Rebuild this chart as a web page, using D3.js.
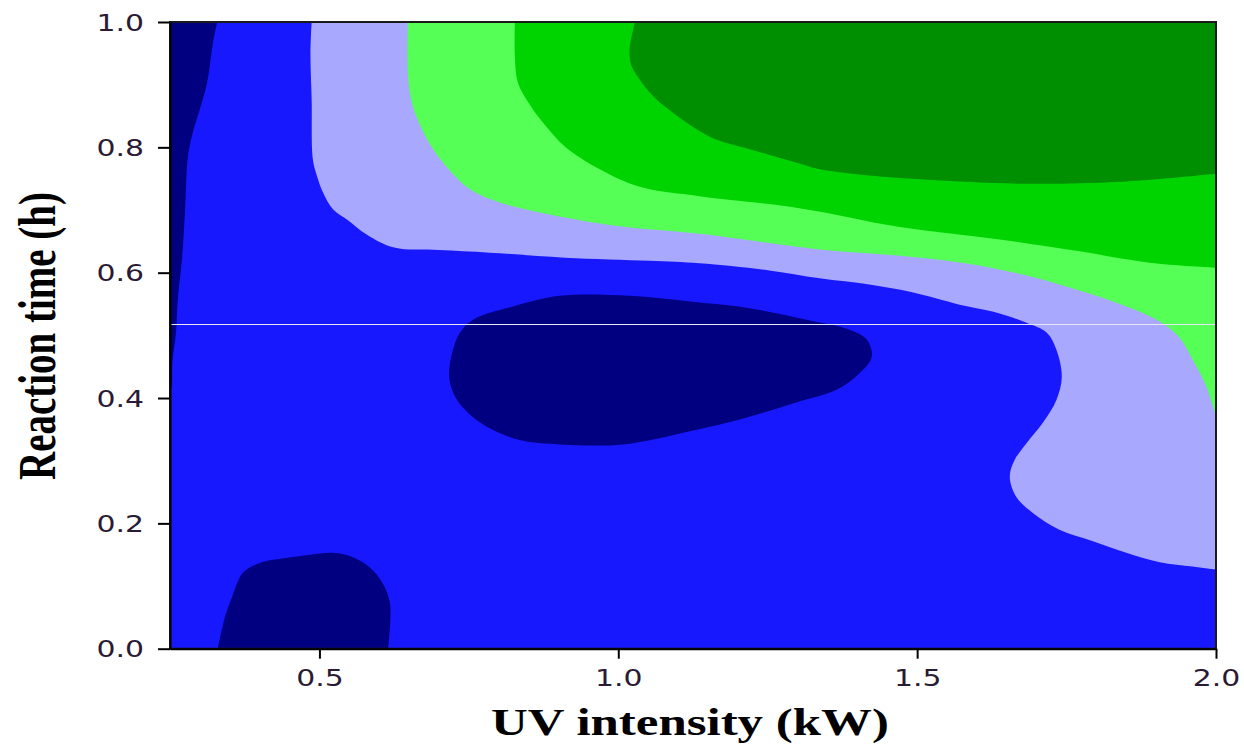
<!DOCTYPE html>
<html>
<head>
<meta charset="utf-8">
<script src="https://cdn.jsdelivr.net/npm/d3@7"></script>
<style>
  html, body { margin: 0; padding: 0; background: #fff; }
  svg { display: block; }
</style>
</head>
<body>
<svg id="chart" width="1244" height="745"></svg>
<script>
// ---- Data (x = UV intensity kW, y = reaction time h) ----
const xDomain = [0.25, 2.0];
const yDomain = [0.0, 1.0];
const xTickValues = [0.5, 1.0, 1.5, 2.0];
const yTickValues = [0.0, 0.2, 0.4, 0.6, 0.8, 1.0];
const xTitle = "UV intensity (kW)";
const yTitle = "Reaction time (h)";

// contour level colours (lowest -> highest)
const levelColors = ["#000080", "#1818ff", "#a8a8ff", "#55ff55", "#00d400", "#008f00"];

// lowest level (navy) islands
const navyLeftStrip = [[0.329,1.0],[0.322,0.967],[0.312,0.903],[0.300,0.861],[0.288,0.823],[0.280,0.785],
  [0.275,0.696],[0.270,0.621],[0.263,0.557],[0.260,0.504],[0.254,0.458],[0.253,0.421],[0.25,0.41]];
const navyBottomBlob = [[0.330,0.0],[0.342,0.051],[0.354,0.083],[0.372,0.121],[0.401,0.137],[0.446,0.145],
  [0.484,0.150],[0.523,0.153],[0.556,0.146],[0.584,0.130],[0.606,0.104],[0.618,0.073],[0.618,0.035],[0.615,0.0]];
const navyMiddleBlob = [[0.902,0.563],[1.019,0.563],[1.120,0.554],[1.215,0.544],[1.315,0.525],[1.387,0.509],
  [1.416,0.493],[1.424,0.466],[1.404,0.440],[1.365,0.413],[1.298,0.393],[1.215,0.369],[1.120,0.347],
  [1.008,0.326],[0.902,0.326],[0.835,0.333],[0.780,0.354],[0.747,0.378],[0.727,0.402],[0.717,0.434],
  [0.722,0.472],[0.735,0.504],[0.757,0.525],[0.824,0.546]];

// boundaries of the upper levels (each closes through the top-right corner)
const boundaryLavender = [[0.487,1.0],[0.485,0.95],[0.487,0.876],[0.489,0.781],[0.496,0.754],[0.506,0.728],
  [0.523,0.701],[0.546,0.685],[0.579,0.661],[0.625,0.640],[0.70,0.636],[0.785,0.632],[0.911,0.624],
  [1.053,0.619],[1.136,0.615],[1.250,0.604],[1.337,0.591],[1.420,0.581],[1.490,0.569],
  [1.571,0.549],[1.626,0.538],[1.683,0.520],[1.717,0.504],[1.733,0.477],[1.742,0.434],[1.733,0.397],
  [1.710,0.360],[1.683,0.328],[1.663,0.301],[1.655,0.274],[1.666,0.242],[1.693,0.217],[1.738,0.190],
  [1.793,0.172],[1.850,0.153],[1.906,0.138],[1.961,0.131],[2.0,0.126]];
const boundaryLightGreen = [[0.648,1.0],[0.648,0.916],[0.655,0.870],[0.668,0.836],[0.688,0.800],[0.710,0.772],
  [0.752,0.733],[0.802,0.712],[0.885,0.693],[1.003,0.674],[1.136,0.662],[1.337,0.637],[1.471,0.627],
  [1.588,0.614],[1.690,0.594],[1.770,0.572],[1.839,0.550],[1.906,0.522],[1.939,0.496],[1.961,0.461],
  [1.984,0.418],[2.0,0.370]];
const boundaryGreen = [[0.827,1.0],[0.827,0.945],[0.832,0.903],[0.852,0.868],[0.877,0.836],[0.911,0.801],
  [0.969,0.765],[1.036,0.737],[1.136,0.722],[1.303,0.703],[1.471,0.673],[1.638,0.653],[1.772,0.634],
  [1.889,0.616],[2.0,0.608]];
const boundaryDarkGreen = [[1.028,1.0],[1.019,0.956],[1.022,0.930],[1.036,0.908],[1.055,0.885],[1.078,0.865],
  [1.153,0.817],[1.220,0.797],[1.300,0.775],[1.337,0.765],[1.420,0.755],[1.504,0.749],[1.671,0.742],
  [1.839,0.745],[2.0,0.758]];

// thin light scan line visible across the reference image
const scanLineY = 0.518;

// ---- Layout ----
const svg = d3.select("#chart");
const margin = {left: 170, top: 22, right: 1244 - 1216, bottom: 745 - 648.7};
const W = 1244 - margin.left - margin.right;
const H = 745 - margin.top - margin.bottom;
const stretch = 1.3;

const x = d3.scaleLinear().domain(xDomain).range([margin.left, margin.left + W]);
const y = d3.scaleLinear().domain(yDomain).range([margin.top + H, margin.top]);

svg.append("defs").append("clipPath").attr("id", "plotclip")
  .append("rect").attr("x", x(xDomain[0])).attr("y", y(yDomain[1]))
  .attr("width", W).attr("height", H);

const plot = svg.append("g").attr("clip-path", "url(#plotclip)");

// base level fill
plot.append("rect").attr("x", x(xDomain[0])).attr("y", y(yDomain[1]))
  .attr("width", W).attr("height", H).attr("fill", levelColors[1]);

const openCurve = d3.line().x(d => x(d[0])).y(d => y(d[1])).curve(d3.curveCatmullRom.alpha(0.5));
const closedCurve = d3.line().x(d => x(d[0])).y(d => y(d[1])).curve(d3.curveCatmullRomClosed.alpha(0.5));

// navy islands
plot.append("path")
  .attr("d", openCurve(navyLeftStrip) + `L${x(xDomain[0])},${y(0.41)}L${x(xDomain[0])},${y(yDomain[1])}Z`)
  .attr("fill", levelColors[0]);
plot.append("path")
  .attr("d", openCurve(navyBottomBlob) + "Z")
  .attr("fill", levelColors[0]);
plot.append("path")
  .attr("d", closedCurve(navyMiddleBlob))
  .attr("fill", levelColors[0]);

// upper levels
[[boundaryLavender, 2], [boundaryLightGreen, 3], [boundaryGreen, 4], [boundaryDarkGreen, 5]].forEach(([b, lvl]) => {
  plot.append("path")
    .attr("d", openCurve(b) + `L${x(xDomain[1])},${y(yDomain[1])}Z`)
    .attr("fill", levelColors[lvl]);
});

// scan line artifact
plot.append("line")
  .attr("x1", x(xDomain[0])).attr("x2", x(xDomain[1]))
  .attr("y1", Math.round(y(scanLineY)) + 0.5).attr("y2", Math.round(y(scanLineY)) + 0.5)
  .attr("stroke", "#e6e6f4").attr("stroke-width", 1);

// frame
svg.append("rect").attr("x", x(xDomain[0])).attr("y", y(yDomain[1]))
  .attr("width", W).attr("height", H)
  .attr("fill", "none").attr("stroke", "#1a1a1a").attr("stroke-width", 2);

// axes
const labelColor = "#2a1a33";
const yAxis = svg.append("g").attr("transform", `translate(${x(xDomain[0])},0)`)
  .call(d3.axisLeft(y).tickValues(yTickValues).tickFormat(d3.format(".1f")).tickSize(12).tickSizeOuter(0));
const xAxis = svg.append("g").attr("transform", `translate(0,${y(yDomain[0])})`)
  .call(d3.axisBottom(x).tickValues(xTickValues).tickFormat(d3.format(".1f")).tickSize(10).tickSizeOuter(0));

[yAxis, xAxis].forEach(a => {
  a.select(".domain").attr("stroke", "#000").attr("stroke-width", 2);
  a.selectAll(".tick line").attr("stroke", "#000").attr("stroke-width", 2);
  a.selectAll(".tick text")
    .attr("fill", labelColor)
    .style("font-family", "'DejaVu Sans', Verdana, sans-serif")
    .style("font-size", "23px");
});
yAxis.selectAll(".tick text")
  .attr("x", -26 / stretch).attr("dy", "0.36em")
  .attr("transform", `scale(${stretch},1)`);
xAxis.selectAll(".tick text")
  .attr("y", 37).attr("dy", 0)
  .attr("transform", `scale(${stretch},1)`);

// axis titles
svg.append("text")
  .attr("transform", `translate(${(x(xDomain[0]) + x(xDomain[1])) / 2 - 3},735) scale(1.34,1)`)
  .attr("text-anchor", "middle")
  .style("font-family", "'Liberation Serif', 'Times New Roman', serif")
  .style("font-weight", "bold").style("font-size", "38px").attr("fill", "#000")
  .text(xTitle);

svg.append("text")
  .attr("transform", `translate(55,336) scale(1.34,1) rotate(-90)`)
  .attr("text-anchor", "middle")
  .style("font-family", "'Liberation Serif', 'Times New Roman', serif")
  .style("font-weight", "bold").style("font-size", "39px").attr("fill", "#000")
  .text(yTitle);
</script>
</body>
</html>
